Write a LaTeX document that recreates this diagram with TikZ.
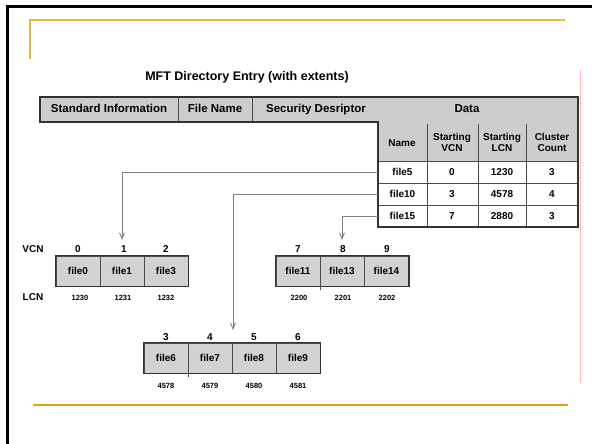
\documentclass[tikz,border=0pt]{standalone}
\usepackage{fontspec}
\setmainfont{Liberation Sans}
\usetikzlibrary{arrows.meta}
\definecolor{hdrgray}{RGB}{205,205,205}
\definecolor{cellgray}{RGB}{210,210,210}
\definecolor{linkgray}{RGB}{128,128,128}
\definecolor{goldtop}{RGB}{226,184,70}
\definecolor{goldbot}{RGB}{224,164,10}
\definecolor{pinkline}{RGB}{255,180,180}
\begin{document}
\begin{tikzpicture}[x=1pt,y=-1pt,
    title/.style={font=\fontsize{12.5}{14}\selectfont\bfseries},
    hdr/.style={font=\fontsize{11.5}{13}\selectfont\bfseries,text height=8.5pt,text depth=2.5pt,inner sep=0pt},
    tab/.style={font=\fontsize{10}{11}\selectfont\bfseries,align=center,inner sep=0pt},
    namecell/.style={tab,minimum width=49pt},
    cell/.style={draw=black!70,line width=0.7pt,fill=cellgray,minimum width=44pt,minimum height=30pt,inner sep=0pt,font=\fontsize{10}{12}\selectfont\bfseries},
    num/.style={font=\fontsize{10}{12}\selectfont\bfseries,inner sep=0pt},
    lcn/.style={font=\fontsize{7.5}{9}\selectfont\bfseries,inner sep=0pt},
    frame/.style={draw=black!80,line width=1.3pt},
    link/.style={draw=linkgray,line width=0.9pt,-{Straight Barb[length=6pt,width=5pt]}}]
    \useasboundingbox (0,0) rectangle (592,444);
    \draw[line width=2.5pt] (7.5,444) -- (7.5,6.5) -- (592,6.5);
    \draw[goldtop,line width=1.3pt] (30,59) -- (30,20) -- (565,20);
    \draw[goldbot,line width=1.3pt] (33,405) -- (568,405);
    \draw[pinkline,line width=0.9pt] (580,70) -- (580,383);
    \node[title] (ttl) at (247,77) {MFT Directory Entry (with extents)};
    \fill[hdrgray] (40,97) rectangle (578,122);
    \fill[hdrgray] (378,122) rectangle (578,161);
    \draw[black!70,line width=0.7pt] (378,183) -- (578,183) (378,205) -- (578,205);
    \draw[black!70,line width=0.7pt] (378,161) -- (578,161);
    \draw[black!70,line width=0.7pt] (178,97) -- (178,122) (252,97) -- (252,122);
    \draw[black!70,line width=0.7pt] (427,124) -- (427,227) (478,124) -- (478,227) (526,124) -- (526,227);
    \draw[frame] (40,97) -- (578,97) -- (578,227) -- (378,227) -- (378,122) -- (40,122) -- cycle;
    \node[hdr] (std) at (109,109.5) {Standard Information};
    \node[hdr] (fname) at (215,109.5) {File Name};
    \node[hdr] (sec) at (316,109.5) {Security Desriptor};
    \node[hdr] (data) at (467,109.5) {Data};
    \node[tab] (hname) at (402,143) {Name};
    \node[tab] (hvcn) at (452,142) {Starting\\VCN};
    \node[tab] (hlcn) at (502,142) {Starting\\LCN};
    \node[tab] (hcount) at (552,142) {Cluster\\Count};
    \node[namecell] (n5) at (402.5,172) {file5};
    \node[tab] (s5v) at (452,172) {0};
    \node[tab] (s5l) at (502,172) {1230};
    \node[tab] (s5c) at (552,172) {3};
    \node[namecell] (n10) at (402.5,194) {file10};
    \node[tab] (s10v) at (452,194) {3};
    \node[tab] (s10l) at (502,194) {4578};
    \node[tab] (s10c) at (552,194) {4};
    \node[namecell] (n15) at (402.5,216) {file15};
    \node[tab] (s15v) at (452,216) {7};
    \node[tab] (s15l) at (502,216) {2880};
    \node[tab] (s15c) at (552,216) {3};
    \node[num] (vcn) at (33,249) {VCN};
    \node[num] (lcn) at (33,297) {LCN};
    \node[cell] (f0) at (78,271) {file0};
    \node[cell] (f1) at (122,271) {file1};
    \node[cell] (f3) at (166,271) {file3};
    \draw[frame] (f0.north west) rectangle (f3.south east);
    \node[num] (v0) at (78,249) {0};
    \node[num] (v1) at (124,249) {1};
    \node[num] (v2) at (166,249) {2};
    \node[lcn] (l0) at (80,298) {1230};
    \node[lcn] (l1) at (123,298) {1231};
    \node[lcn] (l2) at (166,298) {1232};
    \node[cell] (f11) at (298,271) {file11};
    \node[cell] (f13) at (342,271) {file13};
    \node[cell] (f14) at (386.5,271) {file14};
    \draw[frame] (f11.north west) rectangle (f14.south east);
    \draw[black!70,line width=0.7pt] (f11.south east) -- ++(0,4);
    \node[num] (v7) at (298,249) {7};
    \node[num] (v8) at (343,249) {8};
    \node[num] (v9) at (387,249) {9};
    \node[lcn] (l7) at (299,298) {2200};
    \node[lcn] (l8) at (343,298) {2201};
    \node[lcn] (l9) at (387,298) {2202};
    \node[cell] (f6) at (166,358) {file6};
    \node[cell] (f7) at (210,358) {file7};
    \node[cell] (f8) at (254,358) {file8};
    \node[cell] (f9) at (298,358) {file9};
    \draw[frame] (f6.north west) rectangle (f9.south east);
    \draw[black!70,line width=0.7pt] (f6.south east) -- ++(0,4);
    \node[num] (v3) at (166,337) {3};
    \node[num] (v4) at (210,337) {4};
    \node[num] (v5) at (254,337) {5};
    \node[num] (v6) at (298,337) {6};
    \node[lcn] (l3) at (166,386) {4578};
    \node[lcn] (l4) at (210,386) {4579};
    \node[lcn] (l5) at (254,386) {4580};
    \node[lcn] (l6) at (298,386) {4581};
    \coordinate (t5) at (122,240);
    \coordinate (t10) at (233,330);
    \coordinate (t15) at (342,240);
    \draw[link] (n5.west) -| (t5);
    \draw[link] (n10.west) -| (t10);
    \draw[link] (n15.west) -| (t15);
\end{tikzpicture}
\end{document}
